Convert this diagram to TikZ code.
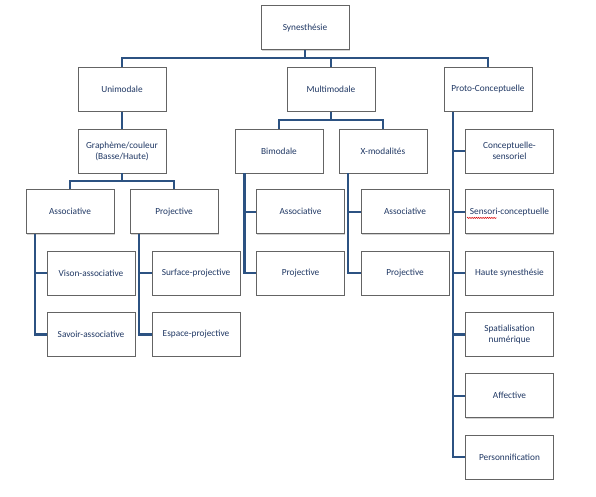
\documentclass[tikz,border=0pt]{standalone}
\usepackage{fontspec}
\setmainfont{Carlito}
\usetikzlibrary{shadows,decorations.pathmorphing}
\definecolor{linecol}{RGB}{44,82,130}
\definecolor{txtcol}{RGB}{32,56,100}
\definecolor{boxcol}{RGB}{100,100,100}
\tikzset{
  box/.style={draw=boxcol, line width=0.9pt, fill=white, minimum width=88pt, minimum height=44pt,
    inner sep=1pt, align=center, text=txtcol, font=\fontsize{9.3}{11}\selectfont,
    drop shadow={shadow xshift=0.9pt, shadow yshift=-0.9pt, opacity=0.35}},
  conn/.style={draw=linecol, line width=2.2pt}
}
\begin{document}
\begin{tikzpicture}[x=1pt,y=-1pt]
\useasboundingbox (0,0) rectangle (596,496);
% nodes
\node[box] (syn) at (305,27.7) {Synesthésie};
\node[box] (uni) at (122,89.5) {Unimodale};
\node[box] (multi) at (331,89.5) {Multimodale};
\node[box] (proto) at (488,89.5) {Proto-Conceptuelle};
\node[box] (graph) at (122,151) {Graphème/couleur\\(Basse/Haute)};
\node[box] (bim) at (279,151) {Bimodale};
\node[box] (xmod) at (383,151) {X-modalités};
\node[box] (pc1) at (509.5,151) {Conceptuelle-\\sensoriel};
\node[box] (assoc1) at (70,211.7) {Associative};
\node[box] (proj1) at (174,211.7) {Projective};
\node[box] (bassoc) at (300.5,211.7) {Associative};
\node[box] (xassoc) at (405,211.7) {Associative};
\node[box] (pc2) at (509.5,211.7) {Sensori-conceptuelle};
\node[box] (vison) at (91,273.3) {Vison-associative};
\node[box] (surf) at (196,273.3) {Surface-projective};
\node[box] (bproj) at (300.5,273.3) {Projective};
\node[box] (xproj) at (405,273.3) {Projective};
\node[box] (pc3) at (509.5,273.3) {Haute synesthésie};
\node[box] (savoir) at (91,334.5) {Savoir-associative};
\node[box] (espace) at (196,334.5) {Espace-projective};
\node[box] (pc4) at (509.5,334.5) {Spatialisation\\numérique};
\node[box] (pc5) at (509.5,395.7) {Affective};
\node[box] (pc6) at (509.5,457.3) {Personnification};
% spell-check squiggle
\draw[red!85!black, line width=0.5pt, decorate, decoration={snake, segment length=2.2pt, amplitude=0.6pt}]
  ([shift={(-42.5,6.2)}]pc2.center) -- ([shift={(-13,6.2)}]pc2.center);
% bus coordinates
\coordinate (b1) at (305,58.3);
\coordinate (b2) at (122,181.3);
\coordinate (b3) at (331,120);
% connectors
\draw[conn] (syn.south) -- (b1);
\draw[conn] (uni.north) |- (b1) -| (proto.north);
\draw[conn] (multi.north) -- (multi.north |- b1);
\draw[conn] (uni.south) -- (graph.north);
\draw[conn] (graph.south) -- (b2);
\draw[conn] (assoc1.north) |- (b2) -| (proj1.north);
\draw[conn] (multi.south) -- (b3);
\draw[conn] (bim.north) |- (b3) -| (xmod.north);
% trunks
\coordinate (t1) at ([xshift=9.3pt]assoc1.south west);
\draw[conn] (t1) |- (savoir.west);
\draw[conn] (vison.west) -- (vison.west -| t1);
\coordinate (t2) at ([xshift=9.6pt]proj1.south west);
\draw[conn] (t2) |- (espace.west);
\draw[conn] (surf.west) -- (surf.west -| t2);
\coordinate (t3) at ([xshift=10pt]bim.south west);
\draw[conn] (t3) |- (bproj.west);
\draw[conn] (bassoc.west) -- (bassoc.west -| t3);
\coordinate (t4) at ([xshift=9.6pt]xmod.south west);
\draw[conn] (t4) |- (xproj.west);
\draw[conn] (xassoc.west) -- (xassoc.west -| t4);
\coordinate (t5) at ([xshift=9.2pt]proto.south west);
\draw[conn] (t5) |- (pc6.west);
\draw[conn] (pc1.west) -- (pc1.west -| t5);
\draw[conn] (pc2.west) -- (pc2.west -| t5);
\draw[conn] (pc3.west) -- (pc3.west -| t5);
\draw[conn] (pc4.west) -- (pc4.west -| t5);
\draw[conn] (pc5.west) -- (pc5.west -| t5);
\end{tikzpicture}
\end{document}
